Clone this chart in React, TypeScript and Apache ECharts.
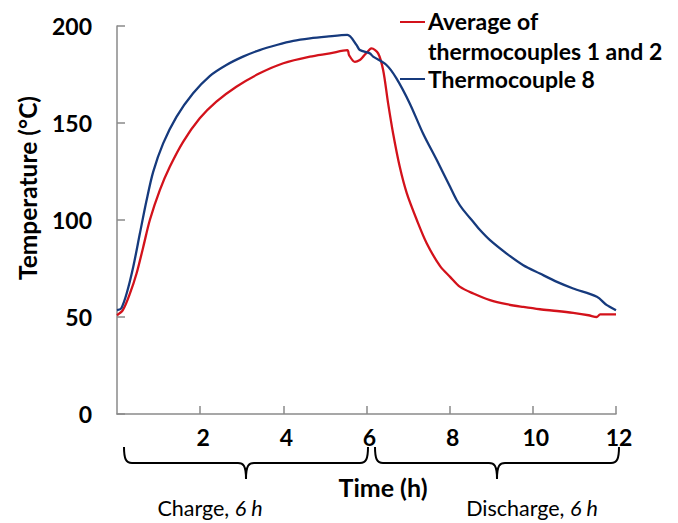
import React, { useEffect, useRef } from "react";
import * as echarts from "echarts";

const avgTime = [0, 0.14, 0.31, 0.47, 0.63, 0.79, 1.03, 1.27, 1.59, 1.99, 2.39, 2.87, 3.43, 4.0, 4.64, 5.12, 5.54, 5.58, 5.72, 5.84, 5.92, 6.08, 6.12, 6.28, 6.4, 6.52, 6.64, 6.8, 6.97, 7.21, 7.45, 7.77, 8.01, 8.25, 8.57, 8.97, 9.37, 9.77, 10.17, 10.58, 10.97, 11.34, 11.54, 11.62, 12];
const avgTemp = [50.9, 53.5, 62, 72.4, 86, 100, 115.4, 127.4, 140.3, 152.4, 161, 168.7, 175.6, 180.8, 184.2, 185.9, 187.6, 185, 181.5, 182.5, 184.2, 188, 188.5, 185.9, 177.3, 160.1, 144.6, 127.4, 113.7, 100, 87.9, 76.2, 70.7, 65.5, 62.1, 58.7, 56.6, 55.2, 54, 53.1, 52.1, 50.9, 50, 51.4, 51.4];

const tc8Time = [0, 0.1, 0.23, 0.39, 0.55, 0.71, 0.87, 1.11, 1.43, 1.83, 2.23, 2.63, 3.03, 3.43, 3.84, 4.24, 4.64, 5.04, 5.54, 5.76, 5.84, 6.08, 6.16, 6.48, 6.72, 7.04, 7.36, 7.69, 8.01, 8.17, 8.33, 8.57, 8.73, 8.97, 9.37, 9.77, 10.17, 10.58, 10.97, 11.54, 11.78, 12];
const tc8Temp = [53.5, 54.4, 62, 75.8, 93, 110, 124.8, 139.5, 153.2, 165.3, 174.2, 179.9, 184.2, 187.6, 190.2, 192.3, 193.6, 194.5, 195.4, 190.2, 187.6, 185.9, 184.2, 179.9, 173, 160.1, 144.6, 130.9, 117.1, 110.2, 105.1, 99, 94.8, 89.6, 82.7, 76.7, 72.4, 68.1, 64.7, 60.4, 56.1, 53.5];

const seriesNames = ["Average of\nthermocouples 1 and 2", "Thermocouple 8"];
const xTitle = "Time (h)";
const yTitle = "Temperature (°C)";
const phaseLabels = ["Charge, ", "Discharge, "];
const phaseDuration = "6 h";

const RED = "#d3121b";
const BLUE = "#163a7d";
const AXIS = "#8a8a8a";
const FONT = "Lato, 'Open Sans', sans-serif";

const bracePath =
  "M0,0 C0,12 2,16 8,16 L114,16 C119,16 122,18 122,32 C122,18 125,16 130,16 L236,16 C242,16 244,12 244,0";
echarts.graphic.registerShape("brace", echarts.graphic.extendPath(bracePath, {}) as any);

export default function App() {
  const ref = useRef<HTMLDivElement>(null);
  useEffect(() => {
    if (!ref.current) return;
    const chart = echarts.init(ref.current, undefined, { renderer: "svg" });
    const pairs = (xs: number[], ys: number[]) => xs.map((x, i) => [x, ys[i]]);
    const legendLines = seriesNames.join("\n").split("\n");
    const legendFont = `bold 23px ${FONT}`;
    const phaseRich = {
      n: { fontFamily: FONT, fontSize: 21.5, fill: "#000", color: "#000" },
      i: { fontFamily: FONT, fontSize: 21.5, fontStyle: "italic", fill: "#000", color: "#000" },
    };
    chart.setOption({
      animation: false,
      backgroundColor: "#ffffff",
      grid: { left: 117, right: 62, top: 26, bottom: 109, containLabel: false },
      xAxis: {
        type: "value",
        min: 0,
        max: 12,
        interval: 2,
        axisLine: { show: true, lineStyle: { color: AXIS, width: 1.5 } },
        axisTick: { show: true, inside: true, length: 8, lineStyle: { color: AXIS, width: 1.5 } },
        splitLine: { show: false },
        axisLabel: {
          showMinLabel: false,
          margin: 11,
          padding: [0, 0, 0, 6],
          color: "#000",
          fontFamily: FONT,
          fontWeight: "bold",
          fontSize: 23,
        },
      },
      yAxis: {
        type: "value",
        min: 0,
        max: 200,
        interval: 50,
        axisLine: { show: true, lineStyle: { color: AXIS, width: 1.5 } },
        axisTick: { show: true, inside: true, length: 8, lineStyle: { color: AXIS, width: 1.5 } },
        splitLine: { show: false },
        axisLabel: {
          margin: 25,
          color: "#000",
          fontFamily: FONT,
          fontWeight: "bold",
          fontSize: 23,
        },
      },
      series: [
        {
          name: seriesNames[0],
          type: "line",
          data: pairs(avgTime, avgTemp),
          showSymbol: false,
          smooth: 0.3,
          lineStyle: { color: RED, width: 2.3 },
          itemStyle: { color: RED },
        },
        {
          name: seriesNames[1],
          type: "line",
          data: pairs(tc8Time, tc8Temp),
          showSymbol: false,
          smooth: 0.3,
          lineStyle: { color: BLUE, width: 2.3 },
          itemStyle: { color: BLUE },
        },
      ],
      graphic: [
        { type: "line", shape: { x1: 400, y1: 22, x2: 425, y2: 22 }, style: { stroke: RED, lineWidth: 2 } },
        { type: "text", x: 428, y: 21, style: { text: legendLines[0], font: legendFont, fill: "#000", textAlign: "left", textVerticalAlign: "middle" } },
        { type: "text", x: 428, y: 51, style: { text: legendLines[1], font: legendFont, fill: "#000", textAlign: "left", textVerticalAlign: "middle" } },
        { type: "line", shape: { x1: 400, y1: 79, x2: 425, y2: 79 }, style: { stroke: BLUE, lineWidth: 2 } },
        { type: "text", x: 428, y: 79, style: { text: legendLines[2], font: legendFont, fill: "#000", textAlign: "left", textVerticalAlign: "middle" } },
        { type: "text", x: 27, y: 188, rotation: Math.PI / 2, style: { text: yTitle, font: `bold 24.5px ${FONT}`, fill: "#000", textAlign: "center", textVerticalAlign: "middle" } },
        { type: "text", x: 383, y: 487, style: { text: xTitle, font: `bold 25px ${FONT}`, fill: "#000", textAlign: "center", textVerticalAlign: "middle" } },
        { type: "brace", x: 124, y: 447, style: { stroke: "#000", fill: "none", lineWidth: 2 } },
        { type: "brace", x: 375, y: 447, style: { stroke: "#000", fill: "none", lineWidth: 2 } },
        {
          type: "text", x: 210, y: 508,
          style: { text: `{n|${phaseLabels[0]}}{i|${phaseDuration}}`, textAlign: "center", textVerticalAlign: "middle", rich: phaseRich },
        },
        {
          type: "text", x: 532, y: 508,
          style: { text: `{n|${phaseLabels[1]}}{i|${phaseDuration}}`, textAlign: "center", textVerticalAlign: "middle", rich: phaseRich },
        },
      ],
    });
    return () => chart.dispose();
  }, []);
  return <div ref={ref} style={{ width: 678, height: 523, position: "absolute", left: 0, top: 0 }} />;
}
